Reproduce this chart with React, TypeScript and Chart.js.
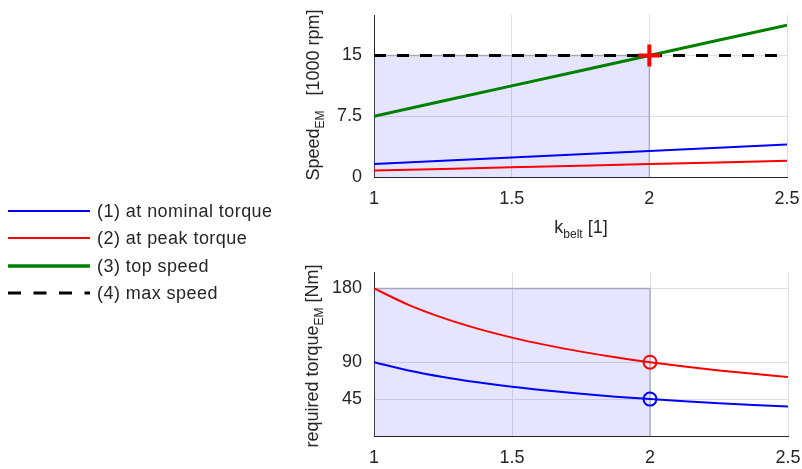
import React, { useEffect, useRef } from "react";
import { Chart, registerables } from "chart.js";
Chart.register(...registerables);

// ---- data ----
const kSpeed = [1, 1.25, 1.5, 1.75, 2, 2.25, 2.5];
const speedNominal = [1.6, 2.0, 2.4, 2.8, 3.2, 3.6, 4.0];
const speedPeak = [0.8, 1.0, 1.2, 1.4, 1.6, 1.8, 2.0];
const speedTop = [7.5, 9.375, 11.25, 13.125, 15, 16.875, 18.75];
const kMaxSpeed = [1, 2.5];
const maxSpeed = [15, 15];
const designK = 2;
const designSpeed = 15;

const kTorque = [1, 1.125, 1.25, 1.375, 1.5, 1.625, 1.75, 1.875, 2, 2.125, 2.25, 2.375, 2.5];
const torquePeak = [180, 160, 144, 130.9, 120, 110.8, 102.9, 96, 90, 84.7, 80, 75.8, 72];
const torqueNominal = [90, 80, 72, 65.5, 60, 55.4, 51.4, 48, 45, 42.4, 40, 37.9, 36];
const designTorquePeak = 90;
const designTorqueNominal = 45;

const regionK = [1, 1, 2, 2];
const speedRegion = [0, 15, 15, 0];
const torqueRegion = [0, 180, 180, 0];

const xTicks = [1, 1.5, 2, 2.5];
const speedTicks = [0, 7.5, 15];
const torqueTicks = [45, 90, 180];

const legendLabels = ["(1) at nominal torque", "(2) at peak torque", "(3) top speed", "(4) max speed"];

// ---- style ----
const FONT = "'Liberation Sans', Arial, Helvetica, sans-serif";
const TEXT = "#262626";
const GRID = "#dfdfdf";
const BLUE = "#0000ff";
const RED = "#ff0000";
const GREEN = "#008000";
const FILL = "rgba(0,0,255,0.1)";
const EDGE = "rgba(110,110,130,0.45)";

type Seg = { t: string; sub?: boolean };

function drawRich(ctx: CanvasRenderingContext2D, segs: Seg[], x: number, y: number, rotate: boolean) {
  ctx.save();
  ctx.translate(x, y);
  if (rotate) ctx.rotate(-Math.PI / 2);
  const main = `18px ${FONT}`;
  const sub = `12px ${FONT}`;
  let total = 0;
  for (const s of segs) {
    ctx.font = s.sub ? sub : main;
    total += ctx.measureText(s.t).width;
  }
  let cx = -total / 2;
  ctx.fillStyle = TEXT;
  ctx.textBaseline = "alphabetic";
  ctx.textAlign = "left";
  for (const s of segs) {
    ctx.font = s.sub ? sub : main;
    ctx.fillText(s.t, cx, s.sub ? 5 : 0);
    cx += ctx.measureText(s.t).width;
  }
  ctx.restore();
}

function pts(xs: number[], ys: number[]) {
  return xs.map((x, i) => ({ x, y: ys[i] }));
}

function zeroPadding(s: any) {
  s.paddingTop = 0;
  s.paddingBottom = 0;
  s.paddingLeft = 0;
  s.paddingRight = 0;
}

function xScale(axisHeight: number) {
  return {
    type: "linear" as const,
    min: 1,
    max: 2.5,
    afterBuildTicks: (s: any) => {
      s.ticks = xTicks.map((v) => ({ value: v }));
    },
    afterFit: (s: any) => {
      s.height = axisHeight;
      zeroPadding(s);
    },
    grid: { color: GRID, drawTicks: false, lineWidth: 1 },
    border: { color: TEXT, width: 1 },
    ticks: {
      font: { family: FONT, size: 18 },
      color: TEXT,
      padding: 11,
      maxRotation: 0,
      autoSkip: false,
      callback: (v: any) => String(v),
    },
  };
}

function yScale(min: number, max: number, ticks: number[]) {
  return {
    type: "linear" as const,
    min,
    max,
    afterBuildTicks: (s: any) => {
      s.ticks = ticks.map((v) => ({ value: v }));
    },
    afterFit: (s: any) => {
      s.width = 374;
      zeroPadding(s);
    },
    grid: { color: GRID, drawTicks: false, lineWidth: 1 },
    border: { color: TEXT, width: 1 },
    ticks: {
      font: { family: FONT, size: 18 },
      color: TEXT,
      padding: 12,
      autoSkip: false,
      callback: (v: any) => String(v),
    },
  };
}

const lineBase = { pointRadius: 0, fill: false, tension: 0 };

function SpeedChart() {
  const ref = useRef<HTMLCanvasElement>(null);
  useEffect(() => {
    const titles = {
      id: "titlesTop",
      afterDraw(chart: any) {
        const ctx = chart.ctx;
        drawRich(ctx, [{ t: "k" }, { t: "belt", sub: true }, { t: " [1]" }], 581, 233, false);
        drawRich(ctx, [{ t: "Speed" }, { t: "EM", sub: true }, { t: "   [1000 rpm]" }], 319, 95, true);
      },
    };
    const chart = new Chart(ref.current!, {
      type: "line",
      data: {
        datasets: [
          {
            ...lineBase,
            data: [{ x: designK, y: designSpeed }],
            pointStyle: "cross",
            pointRadius: 11,
            pointBorderWidth: 4,
            pointBorderColor: RED,
            borderColor: RED,
            showLine: false,
            clip: false,
            order: 0,
          } as any,
          { ...lineBase, data: pts(kSpeed, speedTop), borderColor: GREEN, borderWidth: 3, order: 1 },
          { ...lineBase, data: pts(kSpeed, speedNominal), borderColor: BLUE, borderWidth: 2, order: 2 },
          { ...lineBase, data: pts(kSpeed, speedPeak), borderColor: RED, borderWidth: 2, order: 3 },
          {
            ...lineBase,
            data: pts(kMaxSpeed, maxSpeed),
            borderColor: "#000000",
            borderWidth: 3,
            borderDash: [12, 11],
            order: 4,
          },
          {
            ...lineBase,
            data: pts(regionK, speedRegion),
            borderColor: EDGE,
            borderWidth: 1.5,
            backgroundColor: FILL,
            fill: "origin",
            order: 5,
          },
        ],
      },
      options: {
        animation: false,
        responsive: false,
        parsing: false as any,
        layout: { padding: { top: 12, right: 14, left: 0, bottom: 0 } },
        plugins: { legend: { display: false }, tooltip: { enabled: false } },
        scales: { x: xScale(73) as any, y: yScale(0, 20, speedTicks) as any },
      },
      plugins: [titles],
    });
    return () => chart.destroy();
  }, []);
  return <canvas ref={ref} width={802} height={250} style={{ display: "block" }} />;
}

function TorqueChart() {
  const ref = useRef<HTMLCanvasElement>(null);
  useEffect(() => {
    const titles = {
      id: "titlesBottom",
      afterDraw(chart: any) {
        const ctx = chart.ctx;
        drawRich(ctx, [{ t: "required torque" }, { t: "EM", sub: true }, { t: " [Nm]" }], 318, 106, true);
      },
    };
    const chart = new Chart(ref.current!, {
      type: "line",
      data: {
        datasets: [
          {
            ...lineBase,
            data: [{ x: designK, y: designTorquePeak }],
            pointStyle: "circle",
            pointRadius: 6.5,
            pointBorderWidth: 2,
            pointBorderColor: RED,
            pointBackgroundColor: "rgba(0,0,0,0)",
            showLine: false,
            clip: false,
            order: 0,
          } as any,
          {
            ...lineBase,
            data: [{ x: designK, y: designTorqueNominal }],
            pointStyle: "circle",
            pointRadius: 6.5,
            pointBorderWidth: 2,
            pointBorderColor: BLUE,
            pointBackgroundColor: "rgba(0,0,0,0)",
            showLine: false,
            clip: false,
            order: 1,
          } as any,
          {
            ...lineBase,
            data: pts(kTorque, torquePeak),
            borderColor: RED,
            borderWidth: 2,
            cubicInterpolationMode: "monotone",
            order: 2,
          } as any,
          {
            ...lineBase,
            data: pts(kTorque, torqueNominal),
            borderColor: BLUE,
            borderWidth: 2,
            cubicInterpolationMode: "monotone",
            order: 3,
          } as any,
          {
            ...lineBase,
            data: pts(regionK, torqueRegion),
            borderColor: EDGE,
            borderWidth: 1.5,
            backgroundColor: FILL,
            fill: "origin",
            order: 4,
          },
        ],
      },
      options: {
        animation: false,
        responsive: false,
        parsing: false as any,
        layout: { padding: { top: 22, right: 14, left: 0, bottom: 0 } },
        plugins: { legend: { display: false }, tooltip: { enabled: false } },
        scales: { x: xScale(33) as any, y: yScale(0, 200, torqueTicks) as any },
      },
      plugins: [titles],
    });
    return () => chart.destroy();
  }, []);
  return <canvas ref={ref} width={802} height={219} style={{ display: "block" }} />;
}

const legendStyles = [
  { color: BLUE, width: 2, dash: "" },
  { color: RED, width: 2, dash: "" },
  { color: GREEN, width: 3.5, dash: "" },
  { color: "#000000", width: 3, dash: "13 12.5" },
];
const legendRowY = [211, 238, 266, 293];

function Legend() {
  return (
    <div style={{ position: "absolute", left: 0, top: 0, width: 300, height: 469, pointerEvents: "none" }}>
      {legendLabels.map((label, i) => (
        <div key={label} style={{ position: "absolute", left: 0, top: legendRowY[i] - 12, height: 24, width: 300 }}>
          <svg width={92} height={24} style={{ position: "absolute", left: 0, top: 0 }}>
            <line
              x1={8}
              y1={12}
              x2={90}
              y2={12}
              stroke={legendStyles[i].color}
              strokeWidth={legendStyles[i].width}
              strokeDasharray={legendStyles[i].dash || undefined}
            />
          </svg>
          <span
            style={{
              position: "absolute",
              left: 97,
              top: 0,
              lineHeight: "24px",
              fontFamily: FONT,
              fontSize: 18,
              letterSpacing: "0.45px",
              color: TEXT,
              whiteSpace: "nowrap",
            }}
          >
            {label}
          </span>
        </div>
      ))}
    </div>
  );
}

export default function App() {
  return (
    <div style={{ position: "absolute", left: 0, top: 0, width: 802, height: 469, background: "#ffffff", overflow: "hidden" }}>
      <div style={{ position: "absolute", left: 0, top: 0 }}>
        <SpeedChart />
      </div>
      <div style={{ position: "absolute", left: 0, top: 250 }}>
        <TorqueChart />
      </div>
      <Legend />
    </div>
  );
}
